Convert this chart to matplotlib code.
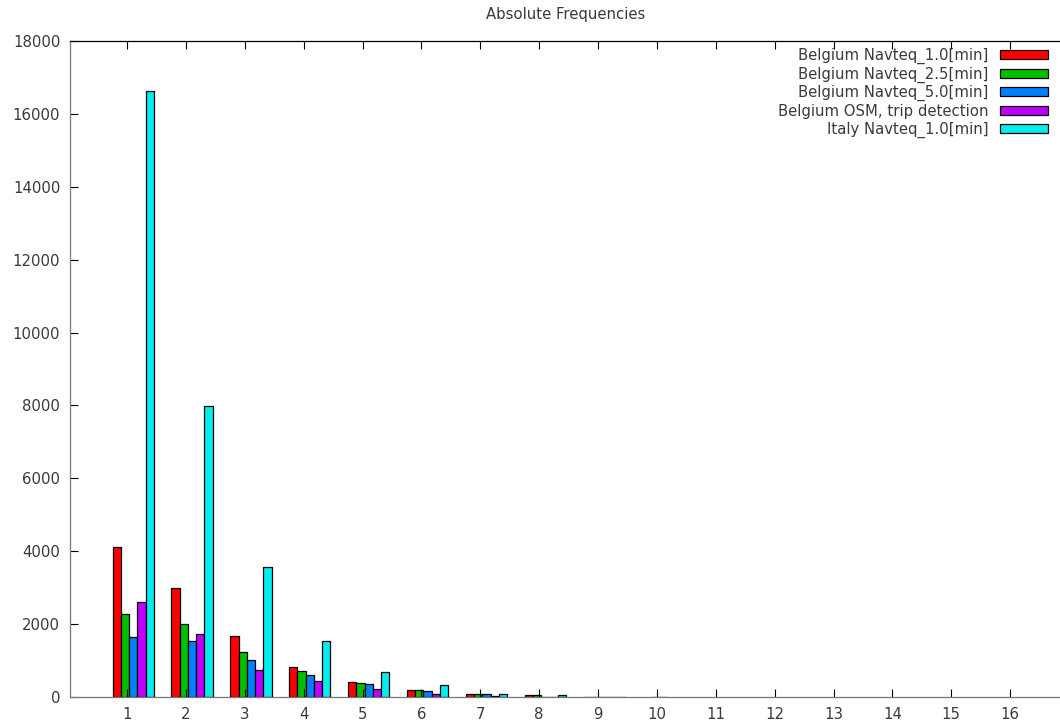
import matplotlib
matplotlib.use("Agg")
import matplotlib.pyplot as plt
import numpy as np

categories = list(range(1, 17))
series_names = [
    "Belgium Navteq_1.0[min]",
    "Belgium Navteq_2.5[min]",
    "Belgium Navteq_5.0[min]",
    "Belgium OSM, trip detection",
    "Italy Navteq_1.0[min]",
]
belgium_1_0 = [4120, 2990, 1665, 823, 420, 200, 92, 55, 8, 0, 0, 0, 0, 0, 0, 0]
belgium_2_5 = [2278, 1995, 1226, 713, 392, 200, 92, 50, 8, 5, 0, 0, 0, 0, 0, 0]
belgium_5_0 = [1638, 1537, 1024, 595, 366, 174, 92, 10, 8, 5, 0, 0, 0, 0, 0, 0]
belgium_osm = [2616, 1720, 741, 430, 211, 92, 37, 10, 8, 0, 0, 0, 0, 0, 0, 0]
italy_1_0 = [16620, 7985, 3559, 1537, 694, 339, 92, 55, 8, 0, 0, 0, 0, 0, 0, 0]
series = [belgium_1_0, belgium_2_5, belgium_5_0, belgium_osm, italy_1_0]
colors = ["#ff0000", "#00c000", "#0080ff", "#c000ff", "#00eeee"]
yticks = [0, 2000, 4000, 6000, 8000, 10000, 12000, 14000, 16000, 18000]

FS = 10.7
TXT = "#3a3a3a"

fig = plt.figure(figsize=(10.6, 7.27), dpi=100)
ax = fig.add_axes([70 / 1060, 30 / 727, 992 / 1060, 656 / 727])

x = np.array(categories, dtype=float)
w = 0.14
offsets = [-0.175 + i * w for i in range(5)]
for vals, name, c, off in zip(series, series_names, colors, offsets):
    v = np.array(vals, dtype=float)
    m = v > 0
    ax.bar(x[m] + off, v[m], width=w, color=c, edgecolor="black", linewidth=0.9,
           label=name, align="center")

ax.set_xlim(0.032, 16.88)
ax.set_ylim(0, 18000)
ax.set_xticks(categories)
ax.set_yticks(yticks)
ax.tick_params(direction="in", length=6, width=0.8, top=True, right=False,
               labelsize=FS, labelcolor=TXT, pad=7)
for s in ax.spines.values():
    s.set_linewidth(0.9)
ax.spines["right"].set_visible(False)
ax.spines["left"].set_color("#777777")
ax.spines["bottom"].set_color("#777777")

fig.text(566 / 1060, 1 - 14 / 727, "Absolute Frequencies", fontsize=FS,
         color=TXT, ha="center", va="center")

leg = ax.legend(loc="upper right", frameon=False, markerfirst=False,
                fontsize=FS, handlelength=3.25, handleheight=0.55,
                labelspacing=0.17, borderpad=0.0, borderaxespad=0.45,
                handletextpad=0.8, bbox_to_anchor=(0.993, 1.0))
for t in leg.get_texts():
    t.set_color(TXT)
    t.set_ha("right")

fig.savefig("out.png", dpi=100)
